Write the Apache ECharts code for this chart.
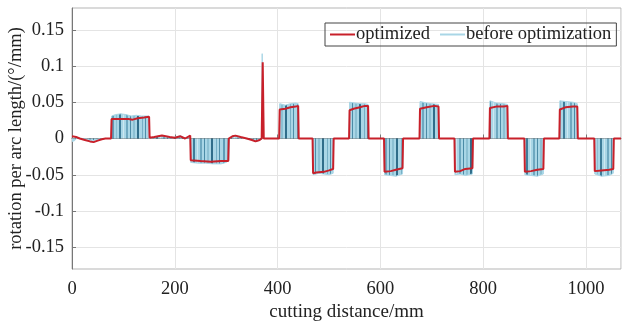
<!DOCTYPE html>
<html>
<head>
<meta charset="utf-8">
<script src="https://cdn.jsdelivr.net/npm/echarts@6/dist/echarts.min.js"></script>
<style>
  html, body { margin: 0; padding: 0; background: #fff; }
  #chart { width: 623px; height: 324px; }
</style>
</head>
<body>
<div id="chart"></div>
<script>
// optimized curve (cutting distance mm, rotation per arc length °/mm)
const optX = [0, 8, 15, 25, 35, 42, 50, 58, 65, 76,
  77, 95, 110, 118, 128, 140, 150,
  151, 160, 175, 190, 200, 211, 220, 230,
  231, 250, 270, 290, 304,
  305, 312, 318, 328, 340, 350, 357, 365, 369,
  371, 373, 403,
  404, 415, 425, 435, 440, 441, 468,
  469, 475, 490, 500, 508, 509, 539,
  540, 548, 560, 570, 576, 577, 607,
  608, 620, 630, 643, 644, 676,
  677, 690, 705, 713, 714, 744,
  745, 755, 765, 779, 780, 812,
  813, 825, 840, 847, 848, 880,
  881, 893, 905, 917, 918, 948,
  949, 960, 975, 983, 984, 1016,
  1017, 1030, 1045, 1053, 1054, 1068];
const optY = [0.003, 0.002, 0.0, -0.002, -0.004, -0.005, -0.003, -0.001, 0, 0,
  0.027, 0.027, 0.027, 0.026, 0.028, 0.029, 0.030,
  0.001, 0.002, 0.004, 0.002, 0.001, 0.003, 0.0, 0.004,
  -0.030, -0.031, -0.032, -0.031, -0.031,
  0.0, 0.003, 0.004, 0.002, 0.0, -0.002, -0.004, -0.002, 0.0,
  0.105, 0.0, 0,
  0.040, 0.041, 0.043, 0.044, 0.045, 0, 0,
  -0.048, -0.047, -0.046, -0.044, -0.042, 0, 0,
  0.039, 0.041, 0.043, 0.045, 0.045, 0, 0,
  -0.046, -0.045, -0.043, -0.041, 0, 0,
  0.041, 0.043, 0.045, 0.044, 0, 0,
  -0.046, -0.045, -0.042, -0.041, 0, 0,
  0.042, 0.044, 0.044, 0.045, 0, 0,
  -0.046, -0.045, -0.043, -0.042, 0, 0,
  0.040, 0.043, 0.044, 0.044, 0, 0,
  -0.045, -0.044, -0.043, -0.042, 0, 0];

// before optimization (raw signal envelope)
const beforeX = [0, 5, 10, 20, 40, 60, 76,
  77, 85, 95, 105, 115, 125, 135, 149, 150,
  160, 175, 195, 211, 220, 230,
  231, 245, 260, 275, 290, 300, 305, 306,
  315, 330, 350, 360, 369, 370, 372, 403,
  404, 415, 425, 435, 440, 441, 468,
  469, 480, 490, 500, 508, 509, 539,
  540, 550, 560, 570, 576, 577, 607,
  608, 620, 630, 643, 644, 676,
  677, 690, 700, 713, 714, 744,
  745, 755, 765, 779, 780, 812,
  813, 825, 840, 847, 848, 880,
  881, 893, 905, 917, 918, 948,
  949, 960, 975, 983, 984, 1016,
  1017, 1030, 1045, 1053, 1054, 1068];
const beforeY = [-0.004, -0.003, 0.001, 0.0, -0.003, 0, 0,
  0.031, 0.033, 0.034, 0.033, 0.031, 0.032, 0.031, 0.031, 0,
  0.002, 0.004, 0.001, 0.004, 0.0, 0.002,
  -0.033, -0.034, -0.034, -0.035, -0.035, -0.033, -0.030, 0,
  0.003, 0.001, -0.002, -0.004, -0.001, 0.117, 0.0, 0,
  0.048, 0.046, 0.048, 0.049, 0.048, 0, 0,
  -0.050, -0.048, -0.049, -0.050, -0.048, 0, 0,
  0.050, 0.049, 0.048, 0.048, 0.047, 0, 0,
  -0.050, -0.051, -0.052, -0.049, 0, 0,
  0.051, 0.049, 0.048, 0.047, 0, 0,
  -0.050, -0.049, -0.051, -0.049, 0, 0,
  0.052, 0.049, 0.048, 0.047, 0, 0,
  -0.050, -0.051, -0.052, -0.049, 0, 0,
  0.052, 0.051, 0.050, 0.048, 0, 0,
  -0.049, -0.052, -0.051, -0.048, 0, 0];

const yTicks = [-0.15, -0.1, -0.05, 0, 0.05, 0.1, 0.15];

const serif = '"Liberation Serif", "DejaVu Serif", serif';

// striped fill for the dense raw signal
function stripePattern() {
  const c = document.createElement('canvas');
  c.width = 37; c.height = 8;
  const g = c.getContext('2d');
  g.fillStyle = '#a9d6e6';
  g.fillRect(0, 0, 37, 8);
  const stripes = [[1, 2, '#5f9cb6'], [5, 1, '#8cc0d3'], [8, 2, '#3e7d99'], [12, 1, '#cde8f1'],
    [15, 2, '#6ea8c0'], [19, 1, '#4c8ba6'], [22, 2, '#8cc0d3'], [26, 2, '#2f6d8a'], [31, 1, '#77b0c6'], [34, 1, '#4f8ea9']];
  stripes.forEach(function (s) { g.fillStyle = s[2]; g.fillRect(s[0], 0, s[1], 8); });
  return c;
}

const zip = (xs, ys) => xs.map((x, i) => [x, ys[i]]);

const chart = echarts.init(document.getElementById('chart'));
chart.setOption({
  animation: false,
  backgroundColor: '#fff',
  textStyle: { fontFamily: serif },
  grid: { left: 72, right: 2, top: 8, bottom: 55, outerBoundsMode: 'none', containLabel: false,
    show: true, borderColor: '#b5b5b5', borderWidth: 1 },
  legend: {
    left: 325, top: 23,
    padding: [2, 5, 2, 5],
    itemGap: 10,
    itemWidth: 25, itemHeight: 2,
    icon: 'rect',
    borderColor: '#444', borderWidth: 1,
    textStyle: { fontFamily: serif, fontSize: 18.5, color: '#222', padding: [0, 0, 0, -4] },
    data: [
      { name: 'optimized', itemStyle: { color: '#c8202a' } },
      { name: 'before optimization', itemStyle: { color: '#a9d6e6' } }
    ]
  },
  xAxis: {
    type: 'value', min: 0, max: 1068, interval: 200,
    name: 'cutting distance/mm', nameLocation: 'middle', nameGap: 34, nameMoveOverlap: false,
    nameTextStyle: { fontFamily: serif, fontSize: 19, color: '#222' },
    axisLine: { show: true, lineStyle: { color: '#777' } },
    axisTick: { show: true, inside: true, length: 4, lineStyle: { color: '#777' } },
    axisLabel: { fontFamily: serif, fontSize: 18.5, color: '#222', margin: 11, showMaxLabel: false,
      formatter: function (v) { return String(v); } },
    splitLine: { show: true, lineStyle: { color: '#e4e4e4' } }
  },
  yAxis: {
    type: 'value', min: -0.18, max: 0.18,
    name: 'rotation per arc length/(°/mm)', nameLocation: 'middle', nameGap: 46, nameMoveOverlap: false,
    nameTextStyle: { fontFamily: serif, fontSize: 18.5, color: '#222' },
    axisLine: { show: true, lineStyle: { color: '#777' } },
    axisTick: { show: true, inside: true, length: 4, customValues: yTicks, lineStyle: { color: '#777' } },
    axisLabel: { fontFamily: serif, fontSize: 18.5, color: '#222', margin: 8, customValues: yTicks },
    splitLine: { show: true, lineStyle: { color: '#e4e4e4' } }
  },
  series: [
    {
      name: 'before optimization', type: 'line',
      color: '#a9d6e6',
      data: zip(beforeX, beforeY),
      showSymbol: false,
      lineStyle: { color: '#a9d6e6', width: 1 },
      areaStyle: { color: { image: stripePattern(), repeat: 'repeat' }, opacity: 1 },
      z: 2
    },
    {
      name: 'optimized', type: 'line',
      color: '#c8202a',
      data: zip(optX, optY),
      showSymbol: false,
      lineStyle: { color: '#c8202a', width: 2 },
      z: 3
    }
  ]
});
</script>
</body>
</html>
